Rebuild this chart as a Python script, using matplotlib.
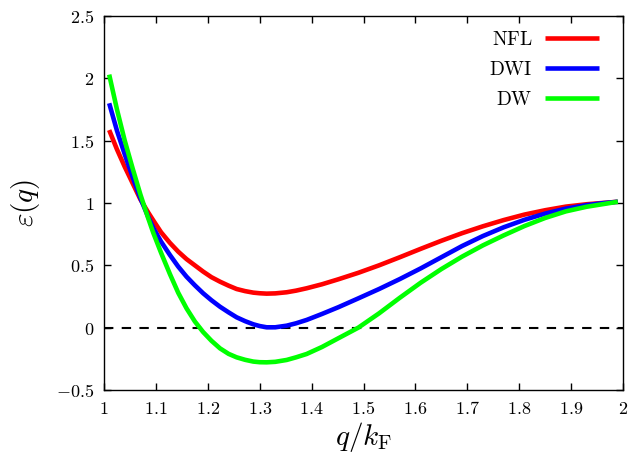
import matplotlib
matplotlib.use("Agg")
import matplotlib.pyplot as plt
from matplotlib.ticker import FuncFormatter

plt.rcParams['mathtext.fontset'] = 'cm'
plt.rcParams['font.family'] = ['DejaVu Serif']

q = [1.01, 1.025, 1.04, 1.055, 1.07, 1.085, 1.095, 1.11, 1.127, 1.143, 1.159,
     1.175, 1.191, 1.207, 1.2235, 1.24, 1.2556, 1.272, 1.2877, 1.3, 1.3134,
     1.33, 1.352, 1.37, 1.3905, 1.42, 1.4515, 1.49, 1.53, 1.57, 1.61, 1.65,
     1.69, 1.73, 1.77, 1.81, 1.85, 1.89, 1.93, 1.96, 1.99]

nfl = [1.585, 1.43, 1.29, 1.16, 1.03, 0.925, 0.86, 0.765, 0.68, 0.61, 0.55,
       0.50, 0.45, 0.405, 0.369, 0.337, 0.31, 0.293, 0.281, 0.276, 0.273,
       0.275, 0.284, 0.297, 0.316, 0.348, 0.388, 0.44, 0.50, 0.565, 0.632, 0.697,
       0.758, 0.813, 0.863, 0.907, 0.942, 0.971, 0.99, 1.0, 1.01]

dwi = [1.80, 1.58, 1.39, 1.21, 1.04, 0.89, 0.80, 0.69, 0.583, 0.49, 0.409,
       0.34, 0.276, 0.22, 0.168, 0.123, 0.083, 0.052, 0.027, 0.013, 0.003,
       0.003, 0.016, 0.035, 0.062, 0.11, 0.164, 0.235, 0.31, 0.39, 0.475, 0.565,
       0.655, 0.735, 0.805, 0.865, 0.915, 0.955, 0.983, 0.998, 1.01]

dw = [2.03, 1.75, 1.50, 1.28, 1.07, 0.88, 0.76, 0.60, 0.43, 0.28, 0.155,
      0.05, -0.035, -0.105, -0.166, -0.21, -0.238, -0.258, -0.272, -0.277, -0.278,
      -0.274, -0.259, -0.238, -0.211, -0.155, -0.085, 0.0, 0.115, 0.24, 0.36, 0.47,
      0.57, 0.66, 0.74, 0.815, 0.88, 0.933, 0.97, 0.99, 1.01]

labels = ['NFL', 'DWI', 'DW']
colors = ['#ff0000', '#0000ff', '#00ff00']

xticks = [1, 1.1, 1.2, 1.3, 1.4, 1.5, 1.6, 1.7, 1.8, 1.9, 2]
yticks = [-0.5, 0, 0.5, 1, 1.5, 2, 2.5]

fig = plt.figure(figsize=(6.3, 4.54), dpi=100)
ax = fig.add_axes([104/630, 1-390/454, (623-104)/630, (390-16)/454])

ax.axhline(0, color='black', lw=1.5, ls=(0, (4.5, 4)), zorder=1)
for ys, lab, c in zip([nfl, dwi, dw], labels, colors):
    ax.plot(q, ys, color=c, lw=3.3, label=r'$\mathrm{%s}$' % lab,
            solid_capstyle='butt', solid_joinstyle='round', zorder=2)

ax.set_xlim(1, 2)
ax.set_ylim(-0.5, 2.5)
ax.set_xticks(xticks)
ax.set_yticks(yticks)
fmt = FuncFormatter(lambda v, p: r'$%g$' % v)
ax.xaxis.set_major_formatter(fmt)
ax.yaxis.set_major_formatter(fmt)
ax.tick_params(direction='in', top=True, right=True, length=5, width=1,
               labelsize=13, pad=7)
for s in ax.spines.values():
    s.set_linewidth(1.0)

ax.set_xlabel(r'$q/k_{\mathrm{F}}$', fontsize=21, labelpad=2)
ax.set_ylabel(r'$\varepsilon(q)$', fontsize=21, labelpad=10)

ax.legend(loc='upper right', frameon=False, markerfirst=False, fontsize=14,
          handlelength=2.75, handletextpad=0.65, labelspacing=0.6,
          bbox_to_anchor=(0.987, 1.006))

fig.savefig('out.png', dpi=100)
